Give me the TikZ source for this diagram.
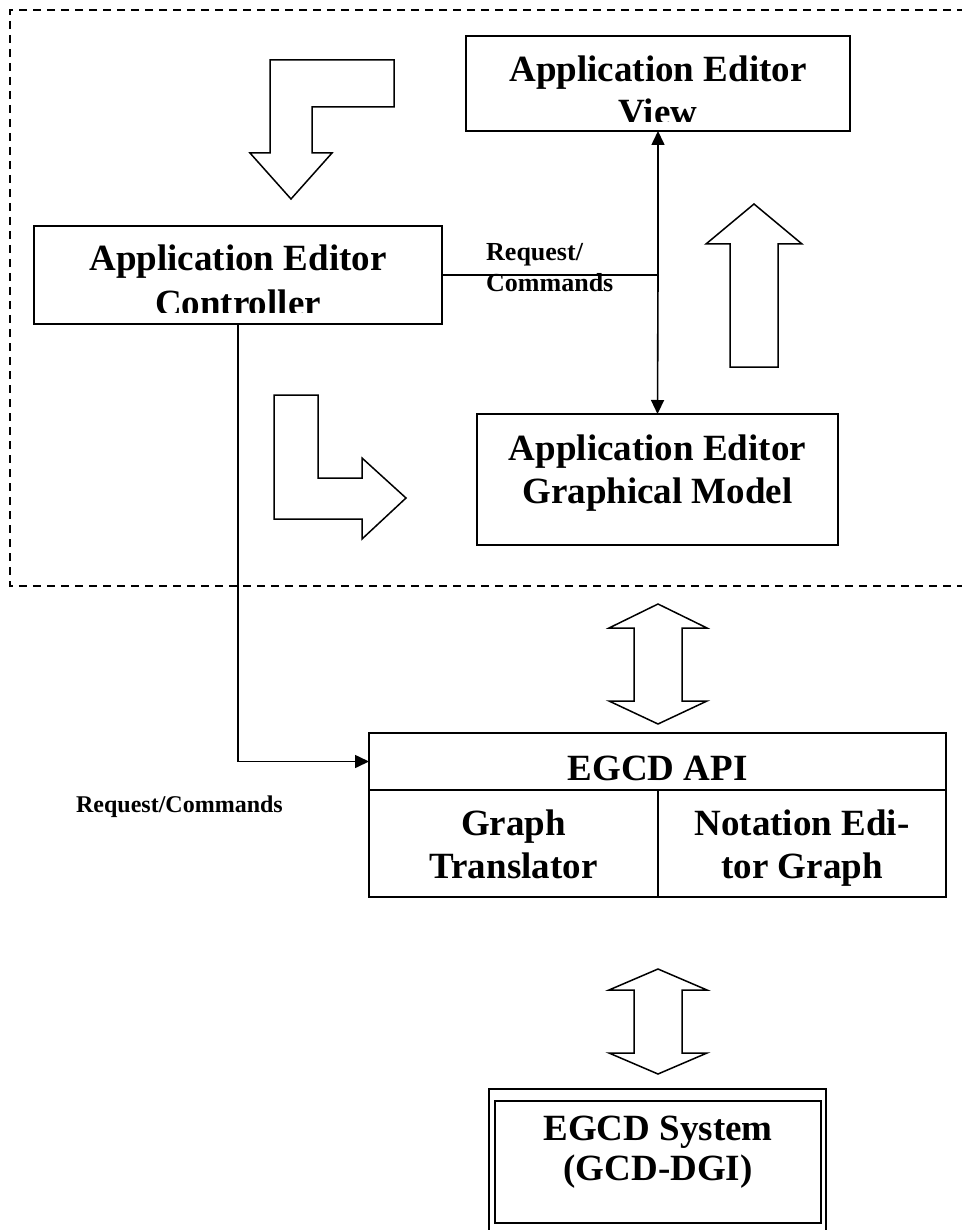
\documentclass[tikz,border=0pt]{standalone}
\usepackage{fontspec}
\setmainfont{Liberation Serif}
\usetikzlibrary{arrows.meta,calc}

\begin{document}
\begin{tikzpicture}[x=1pt,y=-1pt,
  box/.style={draw,line width=2pt,inner sep=0pt,outer sep=0pt,fill=none},
  lbl/.style={font=\fontsize{37}{43}\selectfont\bfseries,inner sep=0pt,anchor=base},
  small/.style={font=\fontsize{26}{30}\selectfont\bfseries,inner sep=0pt},
  link/.style={line width=1.6pt},
  tip/.style={-{Triangle[length=14pt,width=13pt]}},
  hollow/.style={draw,line width=1.5pt,line join=miter,fill=white},
  frame/.style={line width=1.6pt,dash pattern=on 8pt off 6pt}]

% page
\useasboundingbox[fill=white] (0,0) rectangle (961,1230);

% dashed enclosure (open to the right)
\draw[frame] (965,10) -- (10,10) -- (10,586) -- (965,586);

% boxes
\node[box,minimum width=408pt,minimum height=98pt] (ctrl) at (238,275) {};
\node[box,minimum width=384pt,minimum height=95pt] (view) at (658,83.5) {};
\node[box,minimum width=361pt,minimum height=131pt] (gm) at (657.5,479.5) {};
\node[box,minimum width=577pt,minimum height=57pt] (apititle) at (657.5,761.5) {};
\node[box,minimum width=289pt,minimum height=107pt] (apileft) at (513.5,843.5) {};
\node[box,minimum width=288pt,minimum height=107pt] (apiright) at (802,843.5) {};
\node[box,minimum width=337pt,minimum height=151pt] (sysout) at (657.5,1164.5) {};
\node[box,minimum width=326pt,minimum height=122pt] (sysin) at (658,1162) {};

% box texts (the second line of the two upper boxes is cut by the text frame)
\node[lbl] (ctrlA) at (238,271) {Application Editor};
\begin{scope}
  \clip (34,226) rectangle (442,312);
  \node[lbl] (ctrlB) at (238,315) {Controller};
\end{scope}
\node[lbl] (viewA) at (658,82) {Application Editor};
\begin{scope}
  \clip (466,36) rectangle (850,122);
  \node[lbl] (viewB) at (658,125) {View};
\end{scope}
\node[lbl] (gmA) at (657.5,460) {Application Editor};
\node[lbl] (gmB) at (657.5,503) {Graphical Model};
\node[lbl] (apiT) at (657.5,780) {EGCD API};
\node[lbl] (leftA) at (513.5,835) {Graph};
\node[lbl] (leftB) at (513.5,878) {Translator};
\node[lbl] (rightA) at (802,835) {Notation Edi-};
\node[lbl] (rightB) at (802,878) {tor Graph};
\node[lbl] (sysA) at (658,1140) {EGCD System};
\node[lbl] (sysB) at (658,1180) {(GCD-DGI)};

% connectors
\coordinate (jn) at (ctrl.east -| view.south);
\draw[link] (ctrl.east) -- (jn);
\draw[link,tip] (jn) -- (view.south);
\draw[link,tip] (jn) -- (gm.north);
\draw[link,tip] (ctrl.south) |- (apititle.west);

% connector labels
\node[small,anchor=base west] (rqA) at (486,261) {Request/};
\node[small,anchor=base west] (rqB) at (486,291) {Commands};
\node[small,font=\fontsize{24}{28}\selectfont\bfseries,anchor=base east] (rqC) at (283,812) {Request/Commands};

% hollow block arrows
\draw[hollow] (270,60) -- (394,60) -- (394,107) -- (312,107) -- (312,153)
  -- (332,153) -- (291,199) -- (250,153) -- (270,153) -- cycle;
\draw[hollow] (274,395) -- (318,395) -- (318,478) -- (362,478) -- (362,458)
  -- (406,498) -- (362,539) -- (362,519) -- (274,519) -- cycle;
\draw[hollow] (754,204) -- (802,244) -- (778,244) -- (778,367) -- (730,367)
  -- (730,244) -- (706,244) -- cycle;
\draw[hollow] (658,604) -- (707,628) -- (682,628) -- (682,701) -- (707,701)
  -- (658,724) -- (609,701) -- (634,701) -- (634,628) -- (609,628) -- cycle;
\draw[hollow] (658,969) -- (707,990) -- (682,990) -- (682,1053) -- (707,1053)
  -- (658,1074) -- (609,1053) -- (634,1053) -- (634,990) -- (609,990) -- cycle;
\end{tikzpicture}
\end{document}
